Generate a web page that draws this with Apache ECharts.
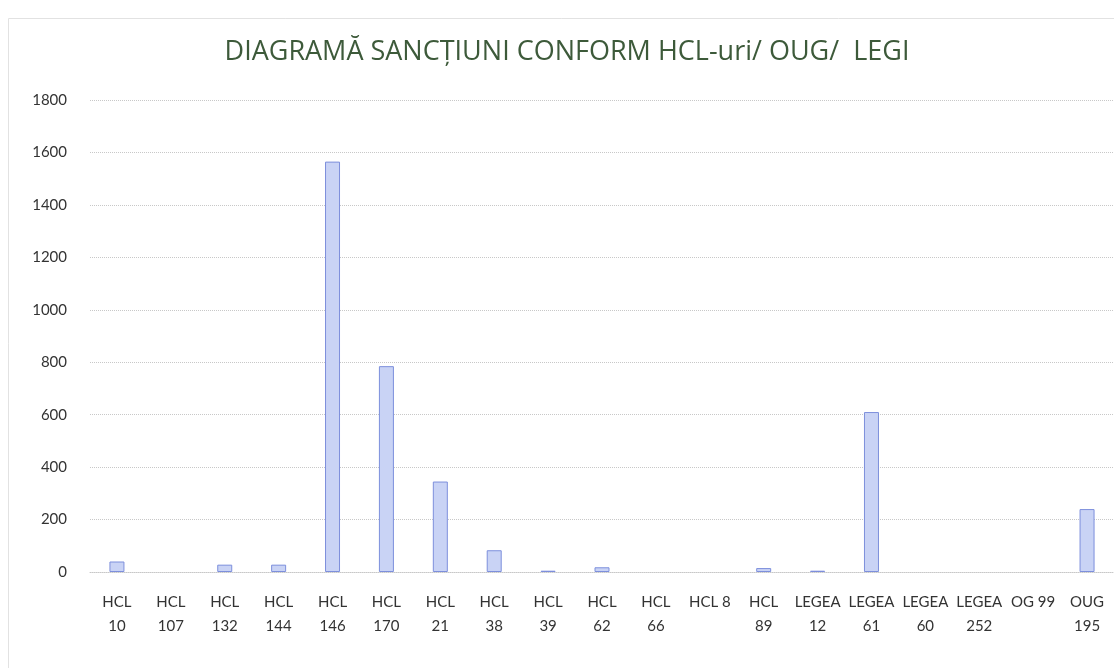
<!DOCTYPE html>
<html>
<head>
<meta charset="utf-8">
<script src="https://cdn.jsdelivr.net/npm/echarts@6/dist/echarts.min.js"></script>
<style>
    html, body { margin: 0; padding: 0; background: #fff; }
    #chart { width: 1114px; height: 668px; }
</style>
</head>
<body>
<div id="chart"></div>
<script>
// categorii (cu ruperea de rand ca in original)
let categories = ['HCL\n10', 'HCL\n107', 'HCL\n132', 'HCL\n144', 'HCL\n146', 'HCL\n170', 'HCL\n21', 'HCL\n38', 'HCL\n39', 'HCL\n62',
    'HCL\n66', 'HCL 8', 'HCL\n89', 'LEGEA\n12', 'LEGEA\n61', 'LEGEA\n60', 'LEGEA\n252', 'OG 99', 'OUG\n195'];
let sanctiuni = [40, 0, 28, 28, 1565, 785, 345, 83, 5, 18, 0, 0, 15, 5, 610, 0, 0, 0, 240];
let yTicks = [0, 200, 400, 600, 800, 1000, 1200, 1400, 1600, 1800];

let fontFam = 'Lato, "Open Sans", sans-serif';

let chart = echarts.init(document.getElementById('chart'));
let option = {
    backgroundColor: '#fff',
    animation: false,
    title: {
        text: 'DIAGRAMĂ SANCȚIUNI CONFORM HCL-uri/ OUG/  LEGI',
        left: 562,
        textAlign: 'center',
        top: 34,
        textStyle: {
            color: '#3d5a3a',
            fontFamily: '"Open Sans", Lato, sans-serif',
            fontWeight: 'normal',
            fontSize: 27
        }
    },
    graphic: [{
        type: 'rect',
        shape: { x: 8.5, y: 18.5, width: 1200, height: 800 },
        style: { fill: 'none', stroke: '#e2e2e2', lineWidth: 1 },
        silent: true
    }],
    grid: {
        left: 90,
        right: -13,
        top: 100,
        bottom: 96
    },
    xAxis: {
        type: 'category',
        data: categories,
        axisTick: { show: false },
        axisLine: {
            lineStyle: { color: '#c8c8c8', type: 'dotted' }
        },
        axisLabel: {
            interval: 0,
            color: '#333',
            fontFamily: fontFam,
            fontSize: 15,
            lineHeight: 24,
            margin: 18
        }
    },
    yAxis: {
        type: 'value',
        min: yTicks[0],
        max: yTicks[yTicks.length - 1],
        interval: 200,
        axisLine: { show: false },
        axisTick: { show: false },
        splitLine: {
            lineStyle: { color: '#c8c8c8', type: 'dotted' }
        },
        axisLabel: {
            color: '#333',
            fontFamily: fontFam,
            fontSize: 15,
            margin: 23,
            formatter: function (v) { return String(v); }
        }
    },
    series: [{
        name: 'Sancțiuni',
        type: 'bar',
        // valorile 0 nu se deseneaza deloc (ca in original)
        data: sanctiuni.map(function (v) { return v === 0 ? '-' : v; }),
        barWidth: 15,
        itemStyle: {
            color: '#c9d3f5',
            borderColor: '#7d8fdc',
            borderWidth: 1
        }
    }]
};
chart.setOption(option);
</script>
</body>
</html>
